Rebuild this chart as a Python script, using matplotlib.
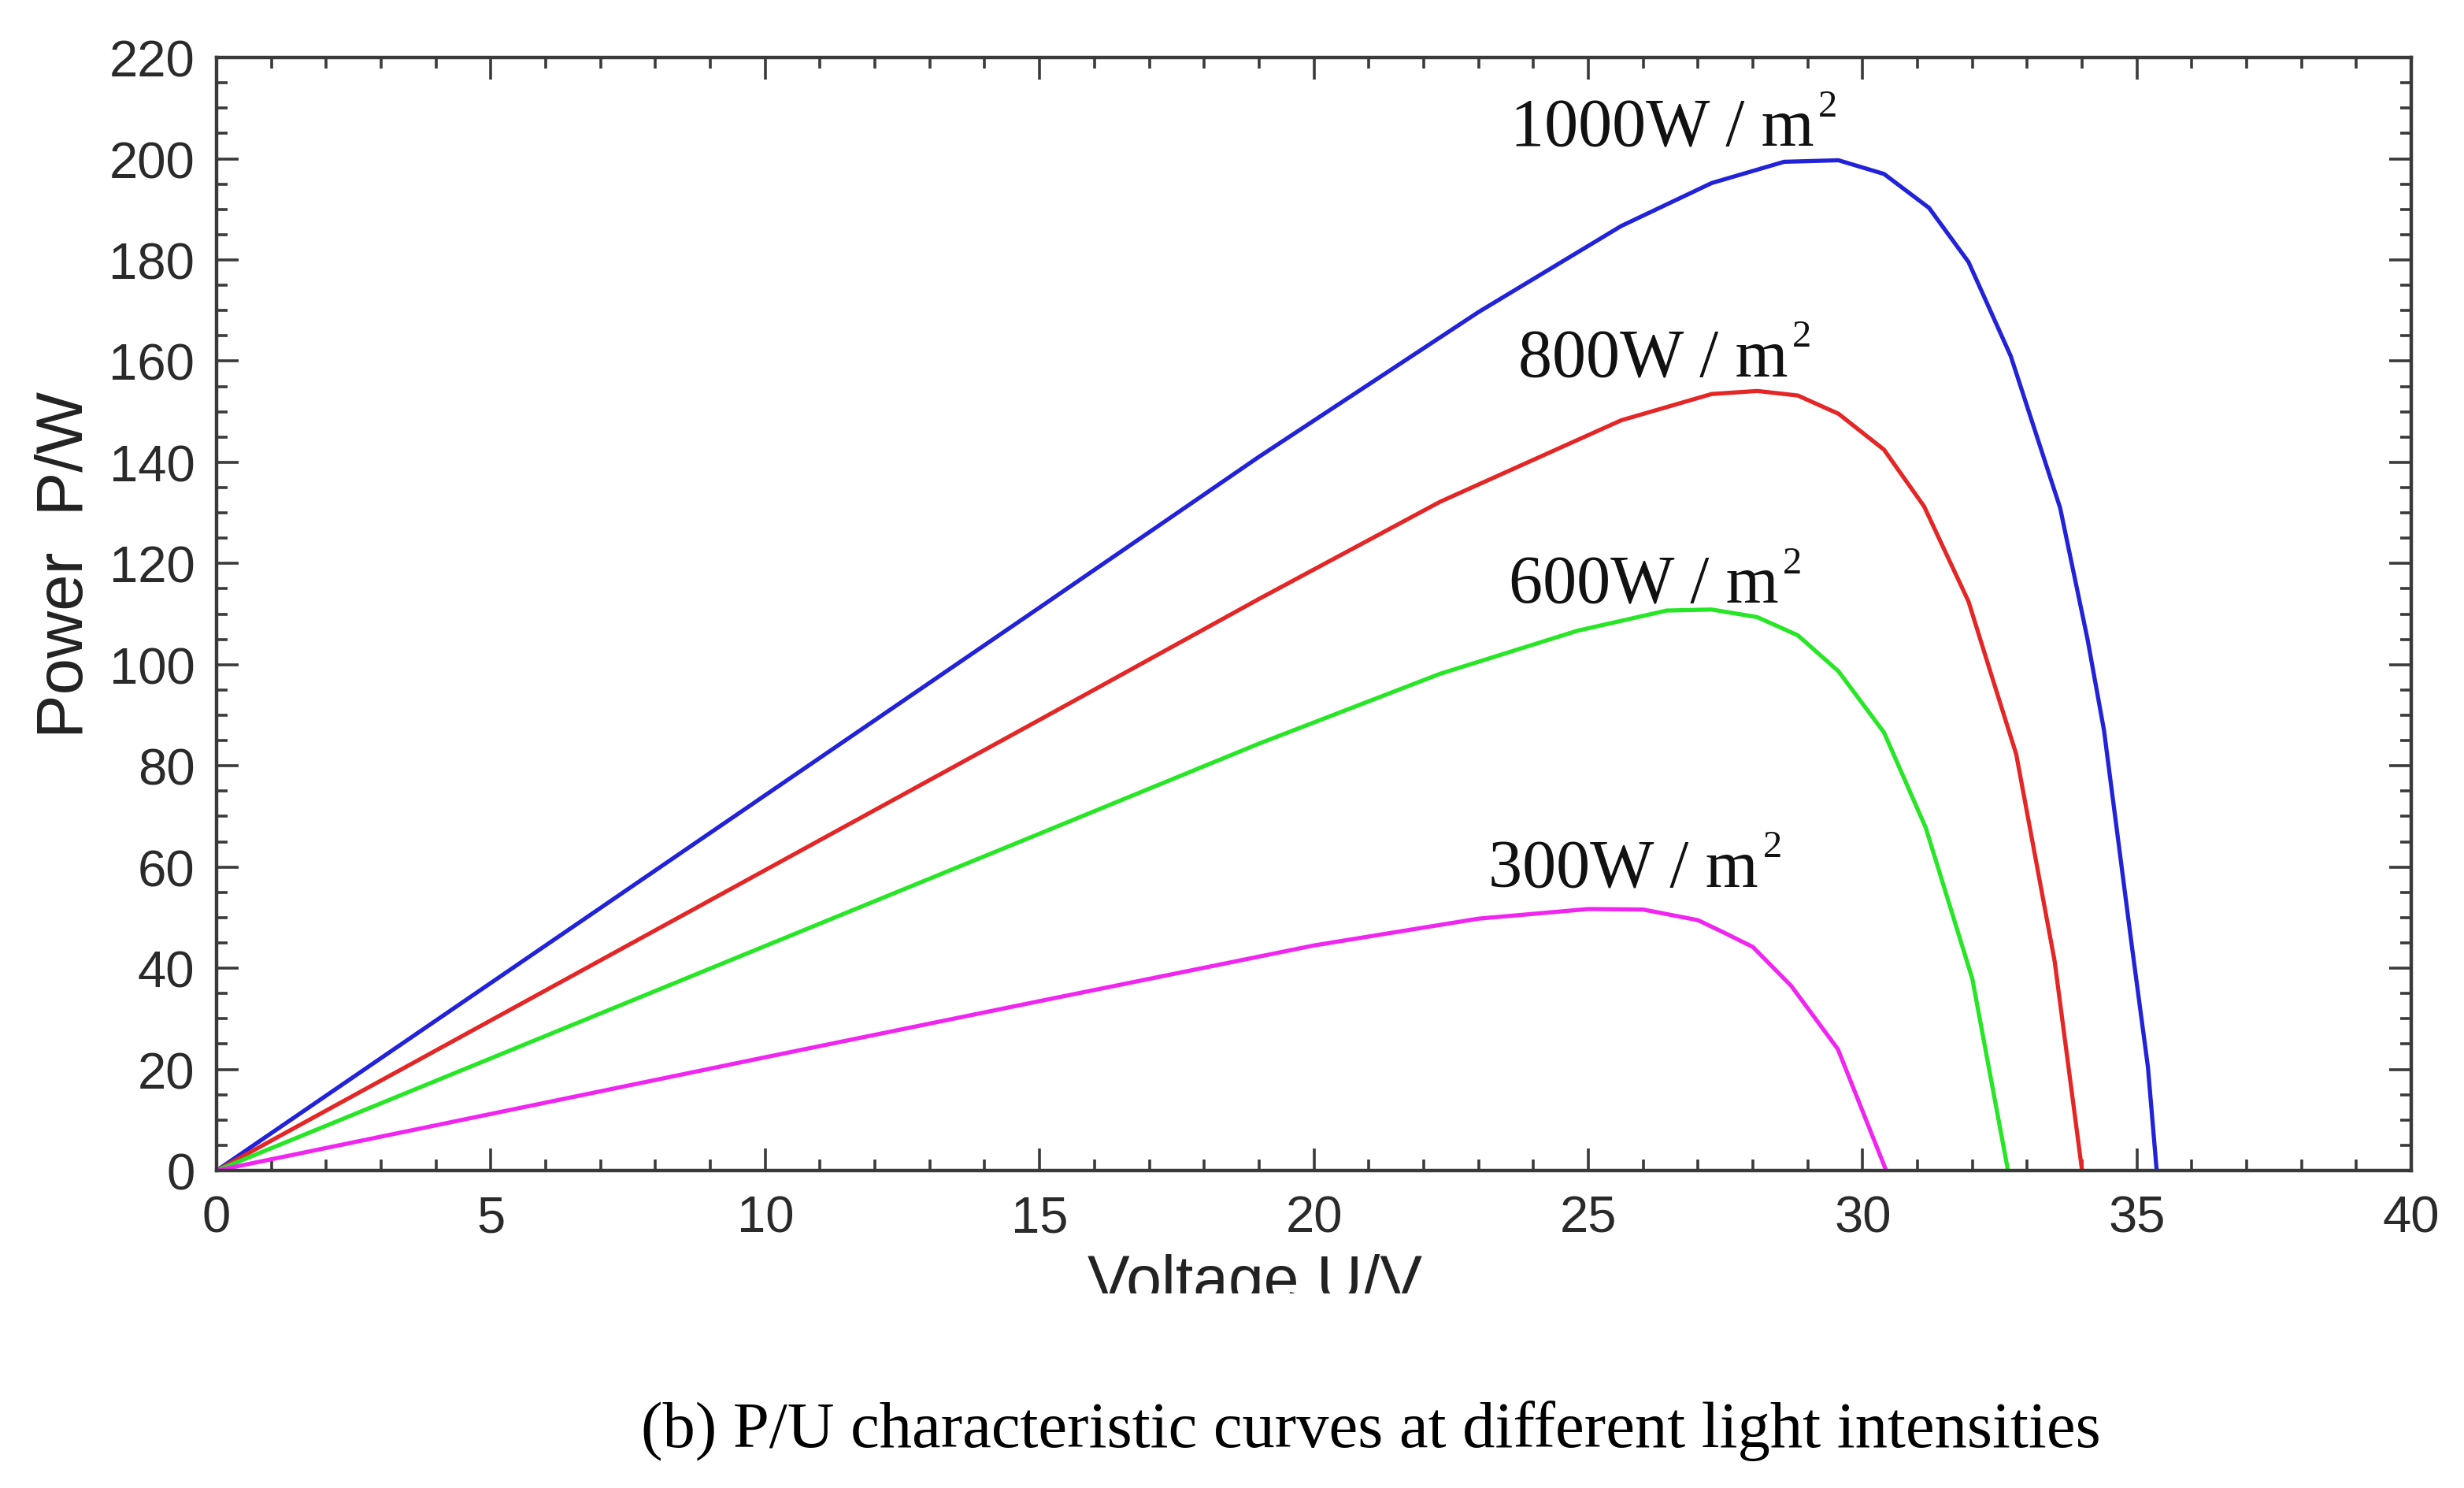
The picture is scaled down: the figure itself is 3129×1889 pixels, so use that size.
import matplotlib
matplotlib.use('Agg')
import matplotlib.pyplot as plt
from matplotlib.ticker import MultipleLocator
from matplotlib.transforms import Bbox

# P/U curves (voltage in V, power in W)
u_1000 = [0, 5, 10, 15, 19.0, 23.0, 25.6, 27.25, 28.57, 29.56, 30.39, 31.21, 31.93, 32.7, 33.6, 34.1, 34.4, 34.9, 35.2, 35.36]
p_1000 = [0, 37.1, 74.2, 111.3, 141.1, 169.7, 186.7, 195.2, 199.4, 199.7, 197.0, 190.3, 179.6, 161, 131, 105, 87, 45, 20.5, 0]

u_800 = [0, 5, 10, 15, 19.0, 22.3, 25.6, 27.25, 28.08, 28.82, 29.56, 30.39, 31.12, 31.93, 32.3, 32.8, 33.5, 34.0]
p_800 = [0, 29.7, 59.4, 89.1, 113.0, 132.2, 148.3, 153.5, 154.1, 153.2, 149.6, 142.5, 131.3, 112.5, 99.6, 82.3, 41.4, 0]

u_600 = [0, 5, 10, 15, 19.0, 22.3, 24.8, 26.43, 27.25, 28.08, 28.82, 29.56, 30.39, 31.15, 32.0, 32.65]
p_600 = [0, 22.2, 44.4, 66.6, 84.4, 98.2, 106.7, 110.7, 110.9, 109.4, 105.8, 98.7, 86.6, 67.8, 37.9, 0]

u_300 = [0, 5, 10, 15, 20, 23, 25, 26, 27.0, 27.5, 28.0, 28.7, 29.55, 30.43]
p_300 = [0, 11.2, 22.4, 33.5, 44.5, 49.8, 51.7, 51.6, 49.5, 46.9, 44.2, 36.5, 24.0, 0]

labels = ['1000W / m', '800W / m', '600W / m', '300W / m']
colors = ['#2222d8', '#e42626', '#26e626', '#f026f0']

fig = plt.figure(figsize=(31.29, 18.90), dpi=100)
ax = fig.add_axes([0.0879, 0.2132, 0.8907, 0.7476])

curves = [(u_1000, p_1000), (u_800, p_800), (u_600, p_600), (u_300, p_300)]
for (u, p), c in zip(curves, colors):
    ax.plot(u, p, color=c, linewidth=3.8)

ax.set_xlim(0, 40)
ax.set_ylim(0, 220)
ax.xaxis.set_major_locator(MultipleLocator(5))
ax.xaxis.set_minor_locator(MultipleLocator(1))
ax.yaxis.set_major_locator(MultipleLocator(20))
ax.yaxis.set_minor_locator(MultipleLocator(5))

axis_col = '#3a3a3a'
for s in ax.spines.values():
    s.set_linewidth(3.2)
    s.set_color(axis_col)
ax.tick_params(which='both', direction='in', top=True, right=True, color=axis_col, width=2.6)
ax.tick_params(which='major', length=20)
ax.tick_params(which='minor', length=10)
ax.tick_params(axis='x', which='major', pad=22)
ax.tick_params(axis='y', which='major', pad=20)
for lab in ax.get_xticklabels() + ax.get_yticklabels():
    lab.set_fontfamily('Liberation Sans')
    lab.set_fontsize(47)
    lab.set_color('#2a2a2a')

# irradiance labels with a raised "2"
label_pos = [(23.58, 202.7), (23.72, 157.1), (23.55, 112.3), (23.18, 56.2)]
for txt, (x, y) in zip(labels, label_pos):
    t = ax.text(x, y, txt, fontfamily='Liberation Serif', fontsize=62, color='#111111',
                ha='left', va='baseline')
    ax.annotate('2', xy=(1, 1), xycoords=t, xytext=(4, 8), textcoords='offset points',
                fontfamily='Liberation Serif', fontsize=35, color='#111111', ha='left', va='top')

fig.text(0.0265, 0.6206, 'Power  P/W', rotation=90, fontfamily='Liberation Sans',
         fontsize=60, color='#222222', ha='center', va='center')

# x label is cut off at the bottom in the source picture
xl = fig.text(0.5094, 1 - 1651 / 1890, 'Voltage U/V', fontfamily='Liberation Sans',
              fontsize=58, color='#222222', ha='center', va='baseline')
xl.set_clip_box(Bbox.from_extents(0, 1890 - 1643, 3129, 1890))
xl.set_clip_on(True)

fig.text(0.5564, 1 - 1837 / 1890, '(b) P/U characteristic curves at different light intensities',
         fontfamily='Liberation Serif', fontsize=59.5, color='black', ha='center', va='baseline')

fig.savefig('out.png', dpi=100)
